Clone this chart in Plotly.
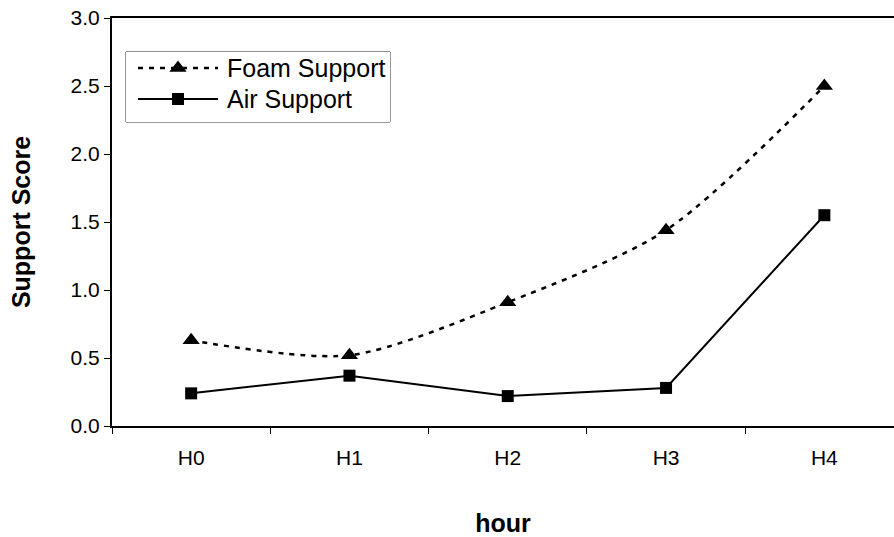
import plotly.graph_objects as go

# Support scores by hour
hours = ["H0", "H1", "H2", "H3", "H4"]
foam_support = [0.63, 0.52, 0.91, 1.44, 2.50]
air_support = [0.24, 0.37, 0.22, 0.28, 1.55]
series_names = ["Foam Support", "Air Support"]

FONT = "Liberation Sans, Arial, sans-serif"

foam_line = dict(color="black", width=2.5, dash="5px,6px")
foam_marker = dict(symbol="triangle-up", size=15, color="black")
air_line = dict(color="black", width=2)
air_marker = dict(symbol="square", size=12, color="black")

fig = go.Figure()

fig.add_trace(go.Scatter(
    x=hours, y=foam_support, name=series_names[0],
    mode="lines+markers",
    line=dict(**foam_line, shape="spline", smoothing=0.8),
    marker=foam_marker, showlegend=False,
))

fig.add_trace(go.Scatter(
    x=hours, y=air_support, name=series_names[1],
    mode="lines+markers",
    line=air_line, marker=air_marker, showlegend=False,
))

# Boxed key in its own small subplot (local units are pixels inside the box)
key_w, key_h = 264, 70
key_rows = [54, 23]
sample_x = [12, 52, 92]
for name, line, marker, row in zip(series_names, [foam_line, air_line],
                                    [foam_marker, air_marker], key_rows):
    fig.add_trace(go.Scatter(
        x=sample_x, y=[row] * 3, xaxis="x2", yaxis="y2",
        mode="lines", line=line, showlegend=False, hoverinfo="skip",
    ))
    fig.add_trace(go.Scatter(
        x=[sample_x[1]], y=[row], xaxis="x2", yaxis="y2",
        mode="markers", marker=marker, showlegend=False, hoverinfo="skip",
    ))
    fig.add_annotation(
        x=99, y=row, xref="x2", yref="y2", text=name, showarrow=False,
        xanchor="left", yanchor="middle", font=dict(size=25, family=FONT),
    )

fig.add_shape(
    type="rect", xref="x2 domain", yref="y2 domain", x0=0, x1=1, y0=0, y1=1,
    line=dict(color="#333333", width=1), fillcolor="white", layer="below",
)

fig.update_layout(
    width=894, height=537,
    margin=dict(l=112, r=0, t=18, b=111),
    paper_bgcolor="white", plot_bgcolor="white",
    font=dict(family=FONT, color="black", size=21),
    showlegend=False,
    xaxis=dict(
        type="category",
        range=[-0.5, 4.44],
        showline=True, linecolor="black", linewidth=2, mirror=True,
        showgrid=False, zeroline=False,
        ticks="outside", ticklen=6, tickcolor="black", tickwidth=1,
        tickson="boundaries",
        ticklabelstandoff=12,
        tickfont=dict(size=21),
        title=dict(text="<b>hour</b>", font=dict(size=25), standoff=46),
    ),
    yaxis=dict(
        range=[0, 3], dtick=0.5, tickformat=".1f",
        showline=True, linecolor="black", linewidth=2, mirror=False,
        showgrid=False, zeroline=False,
        ticks="outside", ticklen=6, tickcolor="black", tickwidth=1,
        tickfont=dict(size=21),
        title=dict(text="<b>Support Score</b>", font=dict(size=25), standoff=33),
    ),
    xaxis2=dict(domain=[0.0179, 0.3555], range=[0, key_w], anchor="y2",
                visible=False, fixedrange=True),
    yaxis2=dict(domain=[0.745, 0.917], range=[0, key_h], anchor="x2",
                visible=False, fixedrange=True),
)

fig.write_html("out.html")
